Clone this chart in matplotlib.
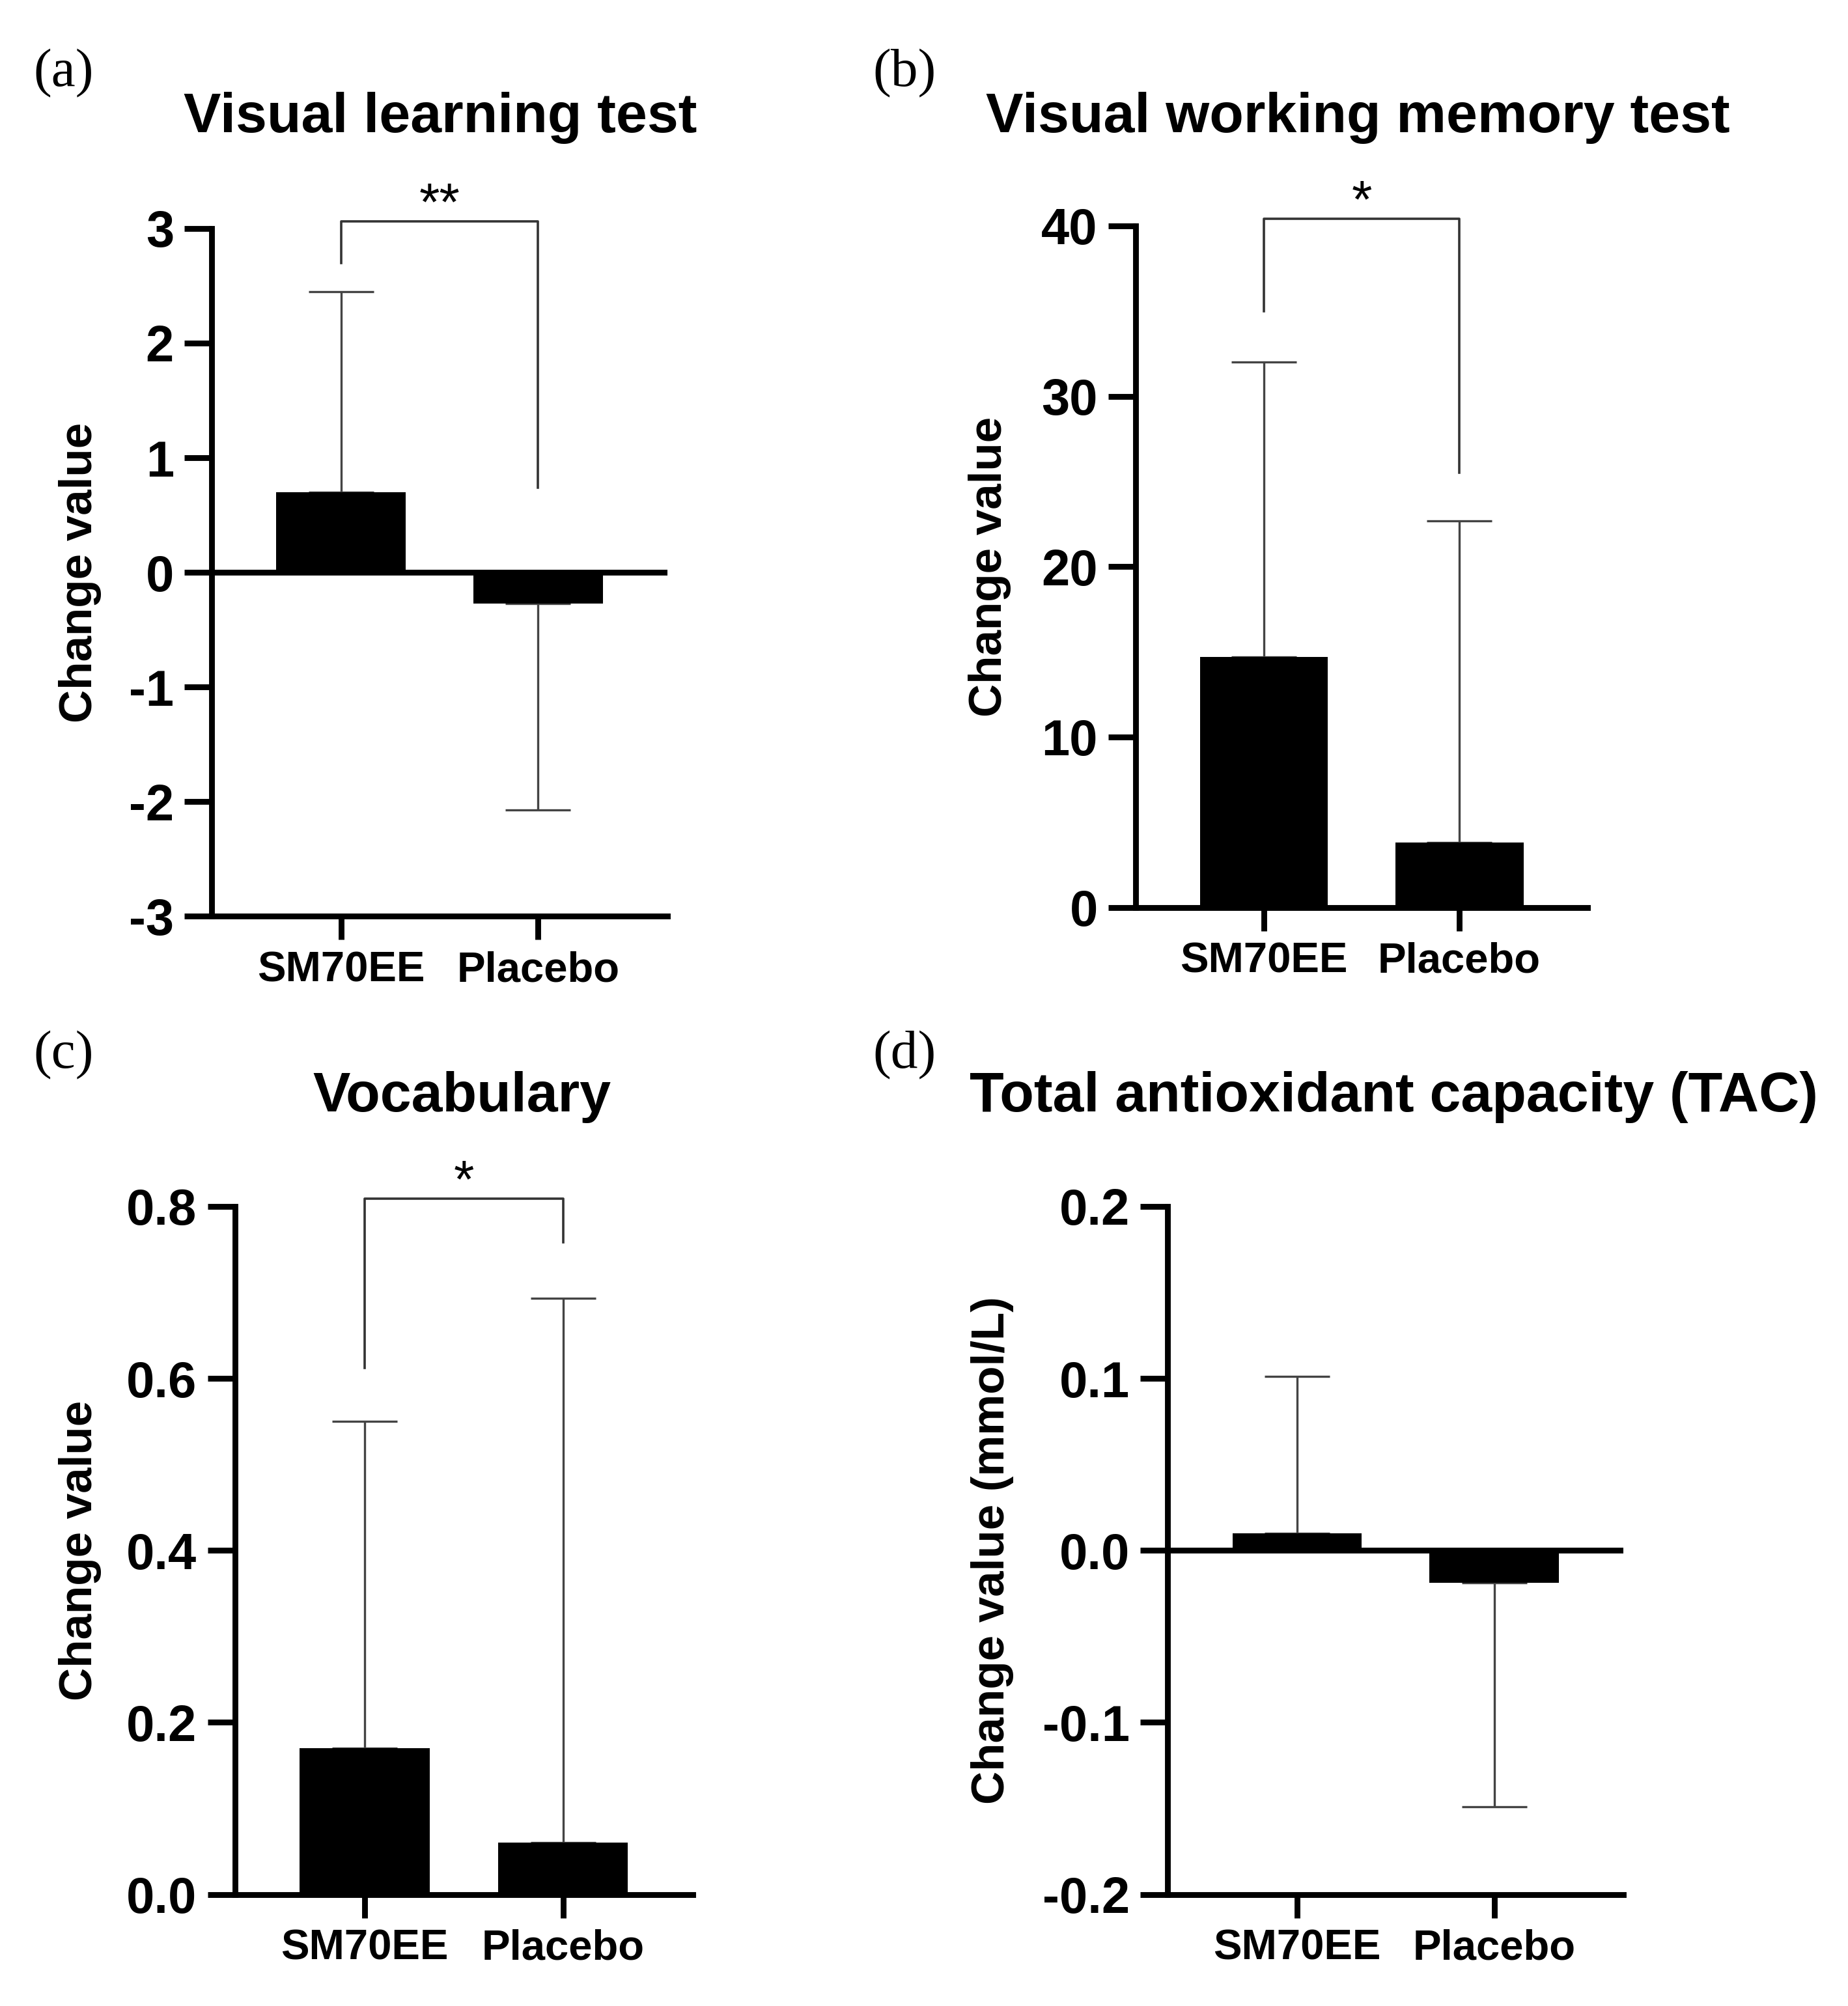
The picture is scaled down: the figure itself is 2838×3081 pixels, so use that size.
import matplotlib.pyplot as plt

# Data (bar = mean change, whisker = one-sided SD)
groups = ['SM70EE', 'Placebo']

vlt_mean = [0.70, -0.27]
vlt_sd = [1.75, 1.80]
vwm_mean = [14.7, 3.8]
vwm_sd = [17.3, 18.9]
voc_mean = [0.17, 0.06]
voc_sd = [0.38, 0.633]
tac_mean = [0.010, -0.019]
tac_sd = [0.091, 0.130]

# significance brackets: (top, left leg end, right leg end, label)
vlt_sig = (3.06, 2.70, 0.74, '**')
vwm_sig = (40.4, 35.0, 25.5, '*')
voc_sig = (0.809, 0.612, 0.758, '*')

vlt_ticks = [-3, -2, -1, 0, 1, 2, 3]
vwm_ticks = [0, 10, 20, 30, 40]
voc_ticks = [0.0, 0.2, 0.4, 0.6, 0.8]
tac_ticks = [-0.2, -0.1, 0.0, 0.1, 0.2]

plt.rcParams['font.family'] = ['Liberation Sans', 'DejaVu Sans']
plt.rcParams['font.weight'] = 'bold'

fig = plt.figure(figsize=(14.19, 15.405), dpi=200)
W, H = 1440.0, 1563.0  # layout measured on a 1440-wide view


def box(l, r, t, b):
    return [l / W, 1 - b / H, (r - l) / W, (b - t) / H]


def panel(rect, mean, sd, ticks, fmt, ylabel, label_x, sig=None, zero_line=False):
    ax = fig.add_axes(rect)
    x = [0, 1]
    ax.bar(x, mean, width=0.656, color='black', zorder=2)
    for xi, m, s in zip(x, mean, sd):
        yerr = [[0], [s]] if m >= 0 else [[s], [0]]
        ax.errorbar([xi], [m], yerr=yerr, fmt='none', ecolor='#444444',
                    elinewidth=1.2, capsize=18, capthick=1.2, zorder=1)
    ax.set_xlim(-0.656, 1.656)
    ax.set_ylim(ticks[0], ticks[-1])
    ax.set_yticks(ticks)
    ax.set_yticklabels([fmt.format(t).replace('\u2212', '-') for t in ticks])
    ax.set_xticks(x)
    ax.set_xticklabels(groups)
    for s in ['top', 'right']:
        ax.spines[s].set_visible(False)
    for s in ['left', 'bottom']:
        ax.spines[s].set_linewidth(3.2)
    ax.tick_params(axis='both', width=3.2, direction='out')
    ax.tick_params(axis='y', labelsize=28, pad=6, length=15)
    ax.tick_params(axis='x', labelsize=23.5, pad=6, length=13)
    for lab in ax.get_xticklabels() + ax.get_yticklabels():
        lab.set_fontweight('bold')
    if zero_line:
        ax.axhline(0, color='black', linewidth=3.2, zorder=3)
    ax.set_ylabel(ylabel, fontsize=25.5, fontweight='bold')
    ax.yaxis.set_label_coords(label_x / W, rect[1] + rect[3] / 2,
                              transform=fig.transFigure)
    if sig is not None:
        top, yl, yr, lab = sig
        ax.plot([0, 0, 1, 1], [yl, top, top, yr], color='#333333',
                linewidth=1.3, clip_on=False, zorder=1)
        ax.annotate(lab, xy=(0.5, top), xytext=(0, -5), textcoords='offset points',
                    ha='center', va='bottom', fontsize=29, fontweight='normal',
                    annotation_clip=False)
    return ax


ax_a = panel(box(165, 520, 178, 714), vlt_mean, vlt_sd, vlt_ticks, '{:d}',
             'Change value', 79, vlt_sig, zero_line=True)
ax_b = panel(box(885, 1237, 176, 707), vwm_mean, vwm_sd, vwm_ticks, '{:d}',
             'Change value', 788, vwm_sig)
ax_c = panel(box(183, 540, 940, 1476), voc_mean, voc_sd, voc_ticks, '{:.1f}',
             'Change value', 79, voc_sig)
ax_d = panel(box(910, 1265, 940, 1476), tac_mean, tac_sd, tac_ticks, '{:.1f}',
             'Change value (mmol/L)', 790, zero_line=True)

# titles
for txt, xc, yc in [('Visual learning test', 343, 92),
                    ('Visual working memory test', 1058, 92),
                    ('Vocabulary', 360, 855),
                    ('Total antioxidant capacity (TAC)', 1086, 855)]:
    fig.text(xc / W, 1 - yc / H, txt, ha='center', va='center',
             fontsize=31, fontweight='bold')

# panel letters
for txt, xl, yc in [('(a)', 26, 57), ('(b)', 680, 57), ('(c)', 26, 822), ('(d)', 680, 822)]:
    fig.text(xl / W, 1 - yc / H, txt, ha='left', va='center', fontsize=30,
             fontweight='normal', family='Liberation Serif')

fig.savefig('out.png', dpi=200)
